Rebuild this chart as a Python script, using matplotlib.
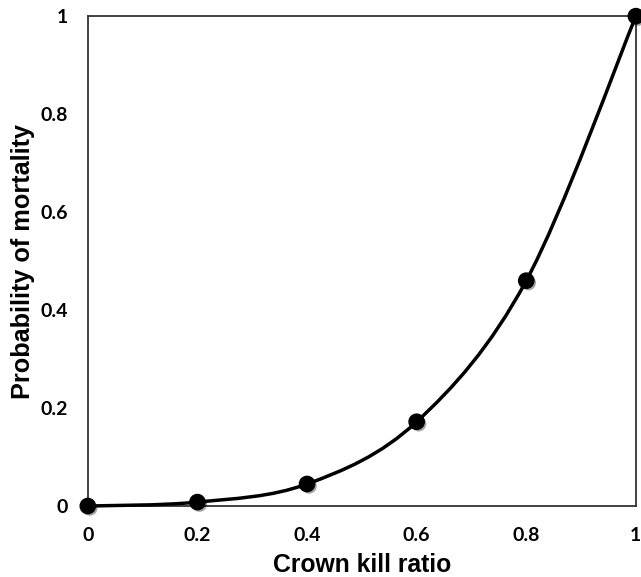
import matplotlib
matplotlib.use('Agg')
import matplotlib.pyplot as plt
import matplotlib.patheffects as pe
from matplotlib.path import Path
from matplotlib.patches import PathPatch
import numpy as np

# crown kill ratio vs probability of mortality
crown_kill = [0.0, 0.2, 0.4, 0.6, 0.8, 1.0]
mortality = [0.0, 0.008, 0.045, 0.172, 0.46, 1.0]
tick_vals = [0, 0.2, 0.4, 0.6, 0.8, 1]
tick_labels = ['0', '0.2', '0.4', '0.6', '0.8', '1']


def smooth_path(x, y):
  # excel-style smoothed line: cubic bezier segments between the points
  pts = np.column_stack([x, y])
  n = len(pts)
  verts = [pts[0]]
  codes = [Path.MOVETO]
  for i in range(n-1):
    p0 = pts[max(i-1, 0)]
    p1 = pts[i]
    p2 = pts[i+1]
    p3 = pts[min(i+2, n-1)]
    c1 = p1 + (p2-p0)/6.0
    c2 = p2 - (p3-p1)/6.0
    verts += [c1, c2, p2]
    codes += [Path.CURVE4]*3
  return Path(verts, codes)


fig = plt.figure(figsize=(6.41, 5.77), dpi=100)
ax = fig.add_axes([0.137, 0.123, 0.855, 0.849])

patch = PathPatch(smooth_path(crown_kill, mortality), facecolor='none',
                  edgecolor='black', lw=2.5, zorder=3, clip_on=False)
ax.add_patch(patch)
ax.plot(crown_kill, mortality, 'o', color='black', ms=11, zorder=4, clip_on=False,
        path_effects=[pe.SimplePatchShadow(offset=(1.5, -1.5), alpha=0.35),
                      pe.Normal()])

ax.set_xlim(0, 1)
ax.set_ylim(0, 1)
ax.set_xticks(tick_vals)
ax.set_xticklabels(tick_labels)
ax.set_yticks(tick_vals)
ax.set_yticklabels(tick_labels)
ax.tick_params(axis='x', length=0, pad=15, labelsize=14)
ax.tick_params(axis='y', length=0, pad=14, labelsize=14)
for lab in ax.get_xticklabels() + ax.get_yticklabels():
  lab.set_fontfamily('Lato')
  lab.set_fontweight('bold')

for s in ax.spines.values():
  s.set_color('#333333')
  s.set_linewidth(1.3)

ax.set_xlabel('Crown kill ratio', fontsize=17.8, fontweight='bold',
              family='Liberation Sans', va='center')
ax.set_ylabel('Probability of mortality', fontsize=18.2, fontweight='bold',
              family='Liberation Sans', va='center')
ax.xaxis.set_label_coords(0.5, -0.12)
ax.yaxis.set_label_coords(-0.118, 0.5)

fig.savefig('out.png', dpi=100)
